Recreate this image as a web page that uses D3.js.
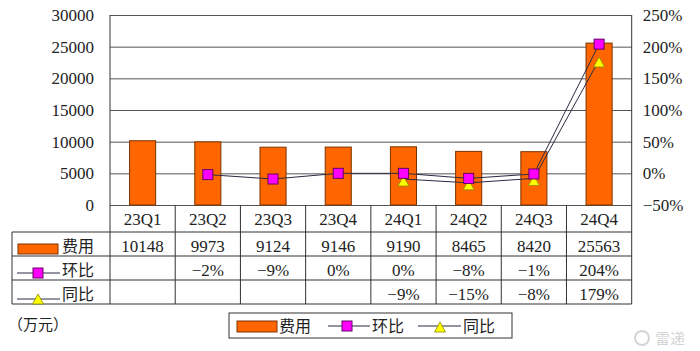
<!DOCTYPE html>
<html><head><meta charset="utf-8">
<script src="https://cdn.jsdelivr.net/npm/d3@7"></script>
<style>body{margin:0;background:#fff}svg{display:block}</style>
</head><body>
<svg id="c" width="700" height="351"></svg>
<script>
const categories = ["23Q1","23Q2","23Q3","23Q4","24Q1","24Q2","24Q3","24Q4"];
const costValues = [10148, 9973, 9124, 9146, 9190, 8465, 8420, 25563];
const qoqValues = [null, -2, -9, 0, 0, -8, -1, 204];
const yoyValues = [null, null, null, null, -9, -15, -8, 179];
const leftTicks = [0, 5000, 10000, 15000, 20000, 25000, 30000];
const rightTicks = [-50, 0, 50, 100, 150, 200, 250];
const seriesNames = ["费用", "环比", "同比"];
const unitLabel = "（万元）";

const svg = d3.select("#c");
const serif = "'Liberation Serif','Noto Sans CJK SC',serif";
const L = 110, R = 631.7, T = 15, B = 205;
const x = d3.scaleBand().domain(categories).range([L, R]);
const yL = d3.scaleLinear().domain([0, 30000]).range([B, T]);
const yR = d3.scaleLinear().domain([-50, 250]).range([B, T]);
const ink = "#333";

// gridlines + left axis
const gl = svg.append("g").attr("transform", `translate(${L},0)`)
  .call(d3.axisLeft(yL).tickValues(leftTicks).tickSize(-(R - L)).tickPadding(16).tickFormat(d3.format("d")));
gl.select(".domain").remove();
gl.selectAll(".tick line").attr("stroke", "#555").attr("stroke-width", 1);
gl.selectAll(".tick text").attr("font-family", serif).attr("font-size", 17).attr("fill", "#222");

const gr = svg.append("g").attr("transform", `translate(${R},0)`)
  .call(d3.axisRight(yR).tickValues(rightTicks).tickSize(0).tickPadding(11).tickFormat(d => d + "%"));
gr.select(".domain").remove();
gr.selectAll(".tick text").attr("font-family", serif).attr("font-size", 17).attr("fill", "#222")
  .text(d => (d < 0 ? "\u2212" + Math.abs(d) : d) + "%");

// axes lines
svg.append("line").attr("x1", L).attr("x2", L).attr("y1", T).attr("y2", B).attr("stroke", ink);
svg.append("line").attr("x1", R).attr("x2", R).attr("y1", T).attr("y2", B).attr("stroke", ink);

// bars
const bw = x.bandwidth() * 0.4;
svg.append("g").selectAll("rect").data(costValues).join("rect")
  .attr("x", (d, i) => x(categories[i]) + x.bandwidth() / 2 - bw / 2)
  .attr("y", d => yL(d)).attr("width", bw).attr("height", d => B - yL(d))
  .attr("fill", "#FF6600").attr("stroke", "#7a3300").attr("stroke-width", 1);

const cx = i => x(categories[i]) + x.bandwidth() / 2;
const line = d3.line().defined(d => d.v !== null).x(d => cx(d.i)).y(d => yR(d.v));
const qoq = qoqValues.map((v, i) => ({v, i}));
const yoy = yoyValues.map((v, i) => ({v, i}));
svg.append("path").datum(qoq).attr("d", line).attr("fill", "none").attr("stroke", "#2a2a44").attr("stroke-width", 1);
svg.append("path").datum(yoy).attr("d", line).attr("fill", "none").attr("stroke", "#2a2a44").attr("stroke-width", 1);

const sq = 10;
function square(g, px, py) {
  g.append("rect").attr("x", px - sq / 2).attr("y", py - sq / 2).attr("width", sq).attr("height", sq)
    .attr("fill", "#FF00FF").attr("stroke", "#660066").attr("stroke-width", 1);
}
function tri(g, px, py) {
  const h = 10, w = 11;
  g.append("path").attr("d", `M${px},${py - h / 2}L${px + w / 2},${py + h / 2}L${px - w / 2},${py + h / 2}Z`)
    .attr("fill", "#FFFF00").attr("stroke", "#8a8a00").attr("stroke-width", 0.8);
}
const mk = svg.append("g");
yoy.filter(d => d.v !== null).forEach(d => tri(mk, cx(d.i), yR(d.v) + 2));
qoq.filter(d => d.v !== null).forEach(d => square(mk, cx(d.i), yR(d.v)));

// data table
const tL = 12, rows = [205, 232, 256, 280, 304];
const tg = svg.append("g").attr("stroke", ink).attr("stroke-width", 1);
tg.append("line").attr("x1", L).attr("x2", R).attr("y1", rows[1]).attr("y2", rows[1]);
tg.append("line").attr("x1", tL).attr("x2", L).attr("y1", rows[1]).attr("y2", rows[1]);
[2, 3, 4].forEach(r => tg.append("line").attr("x1", tL).attr("x2", R).attr("y1", rows[r]).attr("y2", rows[r]));
tg.append("line").attr("x1", tL).attr("x2", tL).attr("y1", rows[1]).attr("y2", rows[4]);
categories.forEach((c, i) => {
  tg.append("line").attr("x1", x(c) + x.bandwidth()).attr("x2", x(c) + x.bandwidth()).attr("y1", B).attr("y2", rows[4]);
});
tg.append("line").attr("x1", L).attr("x2", L).attr("y1", B).attr("y2", rows[4]);

const txt = svg.append("g").attr("font-family", serif).attr("font-size", 17).attr("fill", "#222").attr("text-anchor", "middle");
categories.forEach((c, i) => txt.append("text").attr("x", cx(i)).attr("y", 225).text(c));
const fmtPct = v => v === null ? "" : (v < 0 ? "\u2212" + Math.abs(v) : v) + "%";
costValues.forEach((v, i) => txt.append("text").attr("x", cx(i)).attr("y", 252).text(v));
qoqValues.forEach((v, i) => txt.append("text").attr("x", cx(i)).attr("y", 276).text(fmtPct(v)));
yoyValues.forEach((v, i) => txt.append("text").attr("x", cx(i)).attr("y", 300).text(fmtPct(v)));

// table row legend keys
const cjk = "'Noto Sans CJK SC',sans-serif";
const lk = svg.append("g");
lk.append("rect").attr("x", 18).attr("y", 244).attr("width", 40).attr("height", 10).attr("fill", "#FF6600").attr("stroke", "#7a3300");
lk.append("line").attr("x1", 17).attr("x2", 60).attr("y1", 273).attr("y2", 273).attr("stroke", "#2a2a44");
square(lk, 38, 273);
lk.append("line").attr("x1", 17).attr("x2", 60).attr("y1", 299).attr("y2", 299).attr("stroke", "#2a2a44");
tri(lk, 38, 299);
[[252, 0], [276, 1], [300, 2]].forEach(([yy, k]) =>
  lk.append("text").attr("x", 62).attr("y", yy).attr("font-family", cjk).attr("font-size", 16).attr("fill", "#222").text(seriesNames[k]));

// unit label
svg.append("text").attr("x", 8).attr("y", 330).attr("font-family", cjk).attr("font-size", 15).attr("fill", "#222").text(unitLabel);

// legend
const lg = svg.append("g");
lg.append("rect").attr("x", 229).attr("y", 313).attr("width", 283).attr("height", 25).attr("fill", "#fff").attr("stroke", ink);
lg.append("rect").attr("x", 237).attr("y", 321).attr("width", 40).attr("height", 11).attr("fill", "#FF6600").attr("stroke", "#7a3300");
lg.append("text").attr("x", 279).attr("y", 332).attr("font-family", cjk).attr("font-size", 16).attr("fill", "#222").text(seriesNames[0]);
lg.append("line").attr("x1", 328).attr("x2", 370).attr("y1", 326).attr("y2", 326).attr("stroke", "#2a2a44");
square(lg, 347, 326);
lg.append("text").attr("x", 372).attr("y", 332).attr("font-family", cjk).attr("font-size", 16).attr("fill", "#222").text(seriesNames[1]);
lg.append("line").attr("x1", 418).attr("x2", 461).attr("y1", 326).attr("y2", 326).attr("stroke", "#2a2a44");
tri(lg, 440, 327);
lg.append("text").attr("x", 463).attr("y", 332).attr("font-family", cjk).attr("font-size", 16).attr("fill", "#222").text(seriesNames[2]);

// watermark
const wm = svg.append("g").attr("opacity", 0.35);
wm.append("circle").attr("cx", 642).attr("cy", 338).attr("r", 7).attr("fill", "none").attr("stroke", "#888").attr("stroke-width", 2);
wm.append("text").attr("x", 655).attr("y", 344).attr("font-family", cjk).attr("font-size", 15).attr("fill", "#888").text("雷递");
</script>
</body></html>
